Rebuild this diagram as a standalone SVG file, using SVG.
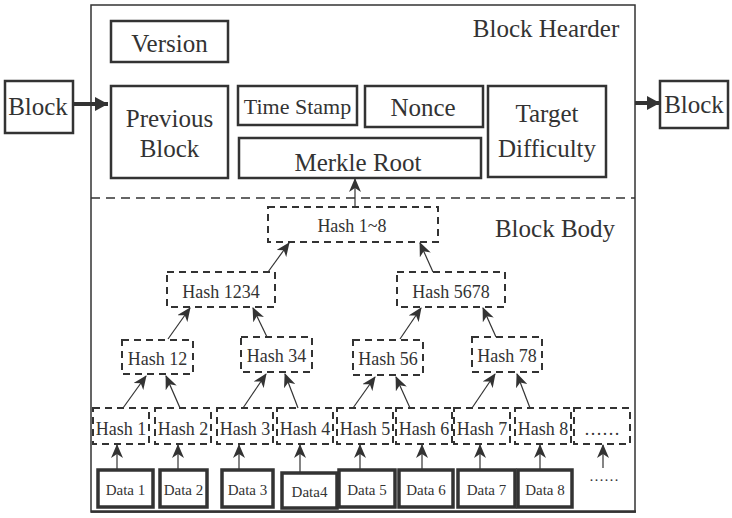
<svg xmlns="http://www.w3.org/2000/svg" width="732" height="518" viewBox="0 0 732 518" font-family="'Liberation Serif', 'Times New Roman', serif">
<style>
text{font-family:'Liberation Serif','Times New Roman',serif;fill:#333;text-anchor:middle}
.box{fill:#fff;stroke:#333;stroke-width:2.5}
.dbox{fill:none;stroke:#333;stroke-width:2;stroke-dasharray:7 5}
.data{fill:#fff;stroke:#333;stroke-width:3.5}
.t25{font-size:25px}
.t22{font-size:22px}
.t18{font-size:18px}
.t15{font-size:15px}
.con{stroke:#333;stroke-width:1.2;fill:none;marker-end:url(#ah)}
.big{stroke:#333;stroke-width:4;fill:none;marker-end:url(#bh)}
</style>
<defs>
<marker id="ah" markerUnits="userSpaceOnUse" markerWidth="15" markerHeight="12" refX="13" refY="6" orient="auto"><path d="M0,0 L14,6 L0,12 L4,6 z" fill="#333"/></marker>
<marker id="bh" markerUnits="userSpaceOnUse" markerWidth="14" markerHeight="14" refX="13" refY="7" orient="auto"><path d="M0,0 L13,7 L0,14 z" fill="#333"/></marker>
</defs>
<rect width="732" height="518" fill="#fff"/>
<g id="frame">
<rect x="91" y="5" width="544" height="507" fill="none" stroke="#333" stroke-width="1.5"/>
<line x1="91" y1="511.5" x2="636" y2="511.5" stroke="#333" stroke-width="2.5"/>
<line x1="91" y1="198" x2="635" y2="198" stroke="#333" stroke-width="1.3" stroke-dasharray="9 6"/>
<text class="t25" x="546" y="37">Block Hearder</text>
<text class="t25" x="555" y="237">Block Body</text>
</g>
<g id="block-left"><rect class="box" x="5" y="81" width="68" height="52"/><text class="t25" x="38" y="115">Block</text></g>
<g id="block-right"><rect class="box" x="660" y="81" width="68" height="47"/><text class="t25" x="694" y="113">Block</text></g>
<g id="version"><rect class="box" x="111" y="21" width="117" height="41"/><text class="t25" x="169.5" y="52">Version</text></g>
<g id="previous-block"><rect class="box" x="111" y="86" width="117" height="92"/><text class="t25" x="169.5" y="127">Previous</text><text class="t25" x="169.5" y="157">Block</text></g>
<g id="time-stamp"><rect class="box" x="238" y="86" width="119" height="39"/><text class="t22" x="297.5" y="114">Time Stamp</text></g>
<g id="nonce"><rect class="box" x="365" y="86" width="118" height="41"/><text class="t25" x="423" y="116">Nonce</text></g>
<g id="merkle-root"><rect class="box" x="239" y="138" width="242" height="40"/><text class="t25" x="358" y="171">Merkle Root</text></g>
<g id="target-difficulty"><rect class="box" x="488" y="86" width="118" height="91"/><text class="t25" x="547" y="122">Target</text><text class="t25" x="547" y="157">Difficulty</text></g>

<g id="hash-1-8"><rect class="dbox" x="268" y="207" width="170" height="35"/><text class="t18" x="352" y="232">Hash 1~8</text></g>
<g id="hash-1234"><rect class="dbox" x="167" y="272" width="108" height="35"/><text class="t18" x="221" y="298">Hash 1234</text></g>
<g id="hash-5678"><rect class="dbox" x="397" y="272" width="108" height="35"/><text class="t18" x="451" y="298">Hash 5678</text></g>
<g id="hash-12"><rect class="dbox" x="122" y="340" width="71" height="34"/><text class="t18" x="157.5" y="365">Hash 12</text></g>
<g id="hash-34"><rect class="dbox" x="241" y="337" width="71" height="35"/><text class="t18" x="276.5" y="362">Hash 34</text></g>
<g id="hash-56"><rect class="dbox" x="353" y="340" width="70" height="35"/><text class="t18" x="388" y="365">Hash 56</text></g>
<g id="hash-78"><rect class="dbox" x="472" y="337" width="70" height="35"/><text class="t18" x="507" y="362">Hash 78</text></g>

<g id="hash-1"><rect class="dbox" x="93" y="408" width="56" height="36"/><text class="t18" x="121" y="435">Hash 1</text></g>
<g id="hash-2"><rect class="dbox" x="155" y="408" width="56" height="36"/><text class="t18" x="183" y="435">Hash 2</text></g>
<g id="hash-3"><rect class="dbox" x="217" y="408" width="56" height="36"/><text class="t18" x="245" y="435">Hash 3</text></g>
<g id="hash-4"><rect class="dbox" x="277" y="408" width="56" height="36"/><text class="t18" x="305" y="435">Hash 4</text></g>
<g id="hash-5"><rect class="dbox" x="337" y="408" width="56" height="36"/><text class="t18" x="365" y="435">Hash 5</text></g>
<g id="hash-6"><rect class="dbox" x="396" y="408" width="56" height="36"/><text class="t18" x="424" y="435">Hash 6</text></g>
<g id="hash-7"><rect class="dbox" x="454" y="408" width="56" height="36"/><text class="t18" x="482" y="435">Hash 7</text></g>
<g id="hash-8"><rect class="dbox" x="515" y="408" width="56" height="36"/><text class="t18" x="543" y="435">Hash 8</text></g>
<g id="hash-more"><rect class="dbox" x="574" y="408" width="56" height="36"/><text class="t18" x="602" y="435">……</text></g>

<g id="data-1"><rect class="data" x="98" y="470" width="55" height="37"/><text class="t15" x="125.5" y="495">Data 1</text></g>
<g id="data-2"><rect class="data" x="160" y="470" width="47" height="37"/><text class="t15" x="183.5" y="495">Data 2</text></g>
<g id="data-3"><rect class="data" x="222" y="470" width="51" height="37"/><text class="t15" x="247.5" y="495">Data 3</text></g>
<g id="data-4"><rect class="data" x="282" y="473" width="55" height="35"/><text class="t15" x="309.5" y="497">Data4</text></g>
<g id="data-5"><rect class="data" x="339" y="470" width="56" height="37"/><text class="t15" x="367" y="495">Data 5</text></g>
<g id="data-6"><rect class="data" x="399" y="470" width="54" height="37"/><text class="t15" x="426" y="495">Data 6</text></g>
<g id="data-7"><rect class="data" x="458" y="470" width="57" height="37"/><text class="t15" x="486.5" y="495">Data 7</text></g>
<g id="data-8"><rect class="data" x="518" y="470" width="54" height="37"/><text class="t15" x="545" y="495">Data 8</text></g>
<g id="data-more"><text class="t15" x="604" y="481">……</text></g>

<g id="connectors">
<line class="big" x1="73" y1="104" x2="108" y2="104"/>
<line class="big" x1="635" y1="103" x2="660" y2="103"/>
<line class="con" x1="355" y1="207" x2="355" y2="179"/>
<line class="con" x1="268" y1="272" x2="289" y2="243"/>
<line class="con" x1="433" y1="272" x2="420" y2="243"/>
<line class="con" x1="168" y1="339" x2="190" y2="308"/>
<line class="con" x1="267" y1="337" x2="253" y2="308"/>
<line class="con" x1="400" y1="339" x2="421" y2="308"/>
<line class="con" x1="496" y1="337" x2="483" y2="308"/>
<line class="con" x1="123" y1="408" x2="146" y2="376"/>
<line class="con" x1="180" y1="408" x2="166" y2="376"/>
<line class="con" x1="243" y1="408" x2="266" y2="374"/>
<line class="con" x1="298" y1="408" x2="285" y2="374"/>
<line class="con" x1="353" y1="408" x2="375" y2="377"/>
<line class="con" x1="410" y1="408" x2="396" y2="377"/>
<line class="con" x1="472" y1="408" x2="495" y2="374"/>
<line class="con" x1="530" y1="408" x2="517" y2="374"/>
<line class="con" x1="117" y1="470" x2="117" y2="445"/>
<line class="con" x1="178" y1="470" x2="178" y2="445"/>
<line class="con" x1="239" y1="470" x2="239" y2="445"/>
<line class="con" x1="300" y1="473" x2="300" y2="445"/>
<line class="con" x1="360" y1="470" x2="360" y2="445"/>
<line class="con" x1="422" y1="470" x2="422" y2="445"/>
<line class="con" x1="480" y1="470" x2="480" y2="445"/>
<line class="con" x1="540" y1="470" x2="540" y2="445"/>
<line class="con" x1="603" y1="468" x2="603" y2="445"/>
</g>
</svg>
